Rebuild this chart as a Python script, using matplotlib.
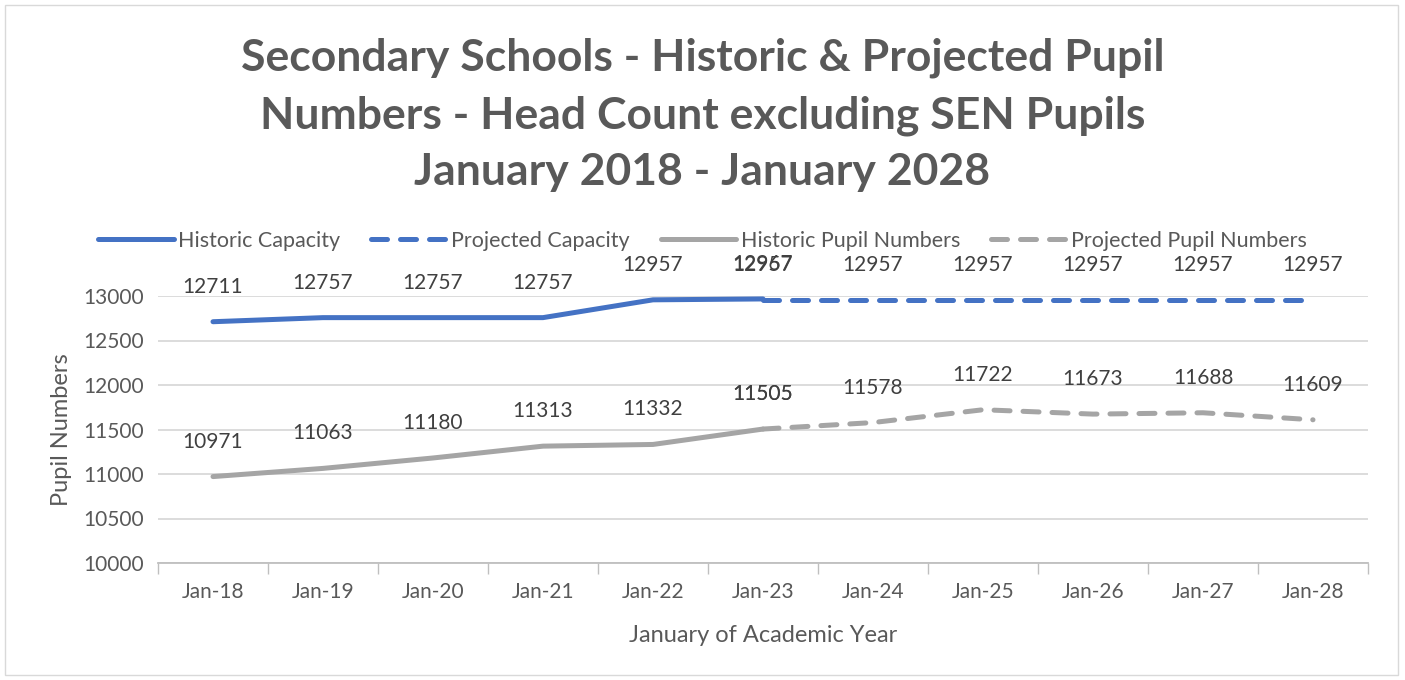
import matplotlib
matplotlib.use("Agg")
import matplotlib.pyplot as plt
from matplotlib.patches import Rectangle
import numpy as np

categories = ["Jan-18", "Jan-19", "Jan-20", "Jan-21", "Jan-22", "Jan-23",
              "Jan-24", "Jan-25", "Jan-26", "Jan-27", "Jan-28"]
historic_capacity = [12711, 12757, 12757, 12757, 12957, 12967, None, None, None, None, None]
projected_capacity = [None, None, None, None, None, 12957, 12957, 12957, 12957, 12957, 12957]
historic_pupils = [10971, 11063, 11180, 11313, 11332, 11505, None, None, None, None, None]
projected_pupils = [None, None, None, None, None, 11505, 11578, 11722, 11673, 11688, 11609]

plt.rcParams['font.family'] = ['Lato', 'DejaVu Sans']
TXT = "#595959"
LBL = "#404040"
BLUE = "#4472C4"
GREY = "#A5A5A5"

fig = plt.figure(figsize=(14.05, 6.80), dpi=100)
ax = fig.add_axes([158/1405, 1-563/680, 1210/1405, (563-296)/680])

x = np.arange(len(categories))

def series(vals):
    xs = [i for i, v in enumerate(vals) if v is not None]
    ys = [v for v in vals if v is not None]
    return xs, ys

lw = 3.6
xs, ys = series(historic_capacity)
ax.plot(xs, ys, color=BLUE, lw=lw, solid_capstyle='round', label="Historic Capacity", zorder=3)
xs, ys = series(projected_capacity)
ax.plot(xs, ys, color=BLUE, lw=lw, ls=(0, (3.2, 2.6)), dash_capstyle='round', label="Projected Capacity", zorder=3)
xs, ys = series(historic_pupils)
ax.plot(xs, ys, color=GREY, lw=lw, solid_capstyle='round', label="Historic Pupil Numbers", zorder=3)
xs, ys = series(projected_pupils)
ax.plot(xs, ys, color=GREY, lw=lw, ls=(0, (3.2, 2.6)), dash_capstyle='round', label="Projected Pupil Numbers", zorder=3)

for vals in (historic_capacity, projected_capacity, historic_pupils, projected_pupils):
    for i, v in enumerate(vals):
        if v is None:
            continue
        ax.annotate(f"{v}", (i, v), xytext=(0, 18), textcoords='offset points',
                    ha='center', va='bottom', fontsize=15, color=LBL, zorder=4)

ax.set_xlim(-0.5, len(categories) - 0.5)
ax.set_ylim(10000, 13000)
ax.set_yticks(np.arange(10000, 13001, 500))
ax.set_xticks(x)
ax.set_xticklabels(categories)
ax.set_xticks(np.arange(-0.5, len(categories), 1), minor=True)
ax.tick_params(axis='x', which='major', length=0, pad=14, labelsize=15, labelcolor=TXT)
ax.tick_params(axis='x', which='minor', length=8, color="#BFBFBF", width=1)
ax.tick_params(axis='y', length=0, pad=10, labelsize=15, labelcolor=TXT)
ax.grid(axis='y', color="#D9D9D9", lw=1.3, zorder=0)
for s in ['top', 'right', 'left']:
    ax.spines[s].set_visible(False)
ax.spines['bottom'].set_color("#BFBFBF")
ax.spines['bottom'].set_linewidth(1.3)
for line in ax.lines:
    line.set_clip_on(False)

ax.set_ylabel("Pupil Numbers", fontsize=17, color=TXT, labelpad=8)
ax.set_xlabel("January of Academic Year", fontsize=17, color=TXT, labelpad=16)

fig.text(0.5, 1-115/680, "Secondary Schools - Historic & Projected Pupil\nNumbers - Head Count excluding SEN Pupils\nJanuary 2018 - January 2028",
         ha='center', va='center', fontsize=32, fontweight='bold', color=TXT, linespacing=1.5)

fig.legend(loc='center', bbox_to_anchor=(0.5, 1-241/680), ncol=4, frameon=False,
           fontsize=15.5, labelcolor=TXT, handlelength=3.5, handletextpad=0.2,
           columnspacing=1.45)

fig.patches.append(Rectangle((5/1405, 5/680), 1393/1405, 670/680, transform=fig.transFigure,
                             fill=False, edgecolor="#D9D9D9", lw=1))

fig.savefig("out.png", dpi=100)
